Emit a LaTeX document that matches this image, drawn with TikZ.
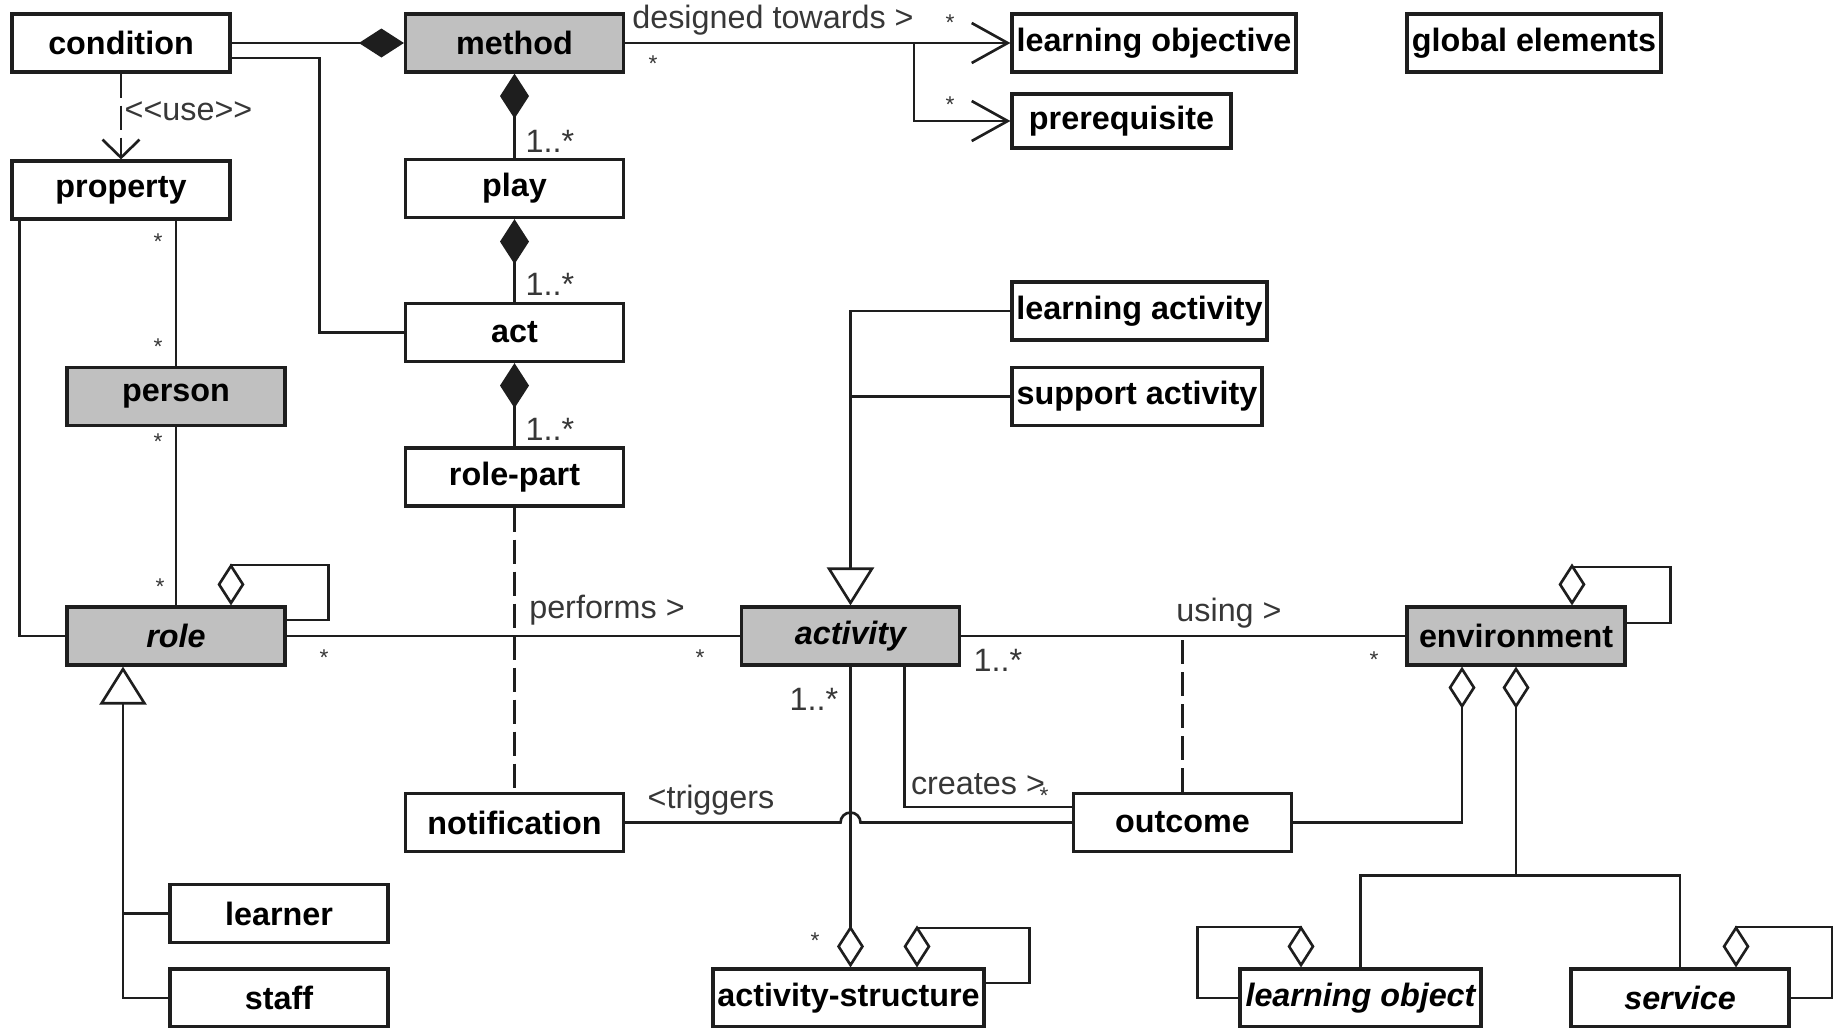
\documentclass[tikz,border=0pt]{standalone}
\usepackage{fontspec}
\setmainfont{Liberation Sans}
\usepackage{tikz}
\usetikzlibrary{arrows.meta, positioning, calc}
\definecolor{classgray}{RGB}{192, 192, 192}
\definecolor{linecolor}{RGB}{30, 30, 30}
\definecolor{labelcolor}{RGB}{55, 55, 55}
\newcommand{\stereo}[1]{<\kern0pt<#1>\kern0pt>}

\begin{document}
\begin{tikzpicture}[
    cls/.style={draw=linecolor, line width=0.9pt, minimum width=2.18cm, minimum height=0.58cm, inner sep=1pt, font=\fontsize{9.2}{11}\selectfont\bfseries},
    key/.style={cls, fill=classgray},
    conn/.style={draw=linecolor, line width=0.75pt},
    comp/.style={conn, -{Diamond[length=0.45cm, width=0.29cm]}},
    aggr/.style={conn, -{Diamond[open, length=0.42cm, width=0.27cm]}},
    gen/.style={conn, -{Triangle[open, length=0.38cm, width=0.47cm]}},
    nav/.style={conn, -{Straight Barb[length=0.36cm, width=0.4cm]}},
    dep/.style={conn, dash pattern=on 0.24cm off 0.08cm, -{Straight Barb[length=0.18cm, width=0.37cm]}},
    assoc/.style={conn, dash pattern=on 0.24cm off 0.08cm},
    lbl/.style={text=labelcolor, font=\fontsize{9.2}{11}\selectfont, inner sep=0pt},
    mult/.style={text=labelcolor, font=\fontsize{6.5}{7}\selectfont, inner sep=0pt},
]
    \useasboundingbox (0, 0) rectangle (18.33, -10.27);

    % Top row
    \node[cls] (condition) at (1.21, -0.43) {condition};
    \node[key] (method) at (5.145, -0.43) {method};
    \node[cls, minimum width=2.84cm] (lobjective) at (11.54, -0.43) {learning objective};
    \node[cls, minimum width=2.54cm] (global) at (15.34, -0.43) {global elements};
    \node[cls, minimum width=2.19cm, minimum height=0.54cm] (prereq) at (11.215, -1.21) {prerequisite};

    % Method structure
    \node[cls] (property) at (1.21, -1.90) {property};
    \node[cls] (play) at (5.145, -1.885) {play};
    \node[cls] (act) at (5.145, -3.325) {act};
    \node[key] (person) at (1.76, -3.965) {person};
    \node[cls] (rolepart) at (5.145, -4.77) {role-part};
    \node[cls, minimum width=2.55cm] (lactivity) at (11.395, -3.11) {learning activity};
    \node[cls, minimum width=2.50cm] (sactivity) at (11.37, -3.965) {support activity};

    % Middle row
    \node[key] (role) at (1.76, -6.36) {\itshape role};
    \node[key] (activity) at (8.505, -6.36) {\itshape activity};
    \node[key] (environment) at (15.16, -6.36) {environment};
    \node[cls] (notification) at (5.145, -8.225) {notification};
    \node[cls] (outcome) at (11.825, -8.225) {outcome};

    % Bottom row
    \node[cls] (learner) at (2.79, -9.135) {learner};
    \node[cls] (staff) at (2.79, -9.98) {staff};
    \node[cls, minimum width=2.71cm] (astructure) at (8.485, -9.98) {activity-structure};
    \node[cls, minimum width=2.41cm] (lobject) at (13.605, -9.98) {\itshape learning object};
    \node[cls] (service) at (16.80, -9.98) {\itshape service};

    % Composition
    \draw[comp] (condition.east) -- (method.west);
    \draw[comp] (play.north) -- (method.south);
    \draw[comp] (act.north) -- (play.south);
    \draw[comp] (rolepart.north) -- (act.south);
    \node[lbl] (m1) at (5.50, -1.41) {1..*};
    \node[lbl] (m2) at (5.50, -2.84) {1..*};
    \node[lbl] (m3) at (5.50, -4.29) {1..*};

    % Condition links
    \draw[conn] ([yshift=-0.15cm]condition.east) -- ++(0.88, 0) |- (act.west);
    \draw[dep] (condition.south) -- (property.north);
    \node[lbl, anchor=west] (uselbl) at (1.24, -1.11) {\stereo{use}};

    % Designed towards
    \coordinate (dsplit) at ($(method.east)!0.75!(lobjective.west)$);
    \draw[nav] (method.east) -- (lobjective.west);
    \draw[nav] (dsplit) |- (prereq.west);
    \node[lbl] (dlbl) at (7.73, -0.20) {designed towards >};
    \node[mult] (s1) at (6.53, -0.64) {*};
    \node[mult] (s2) at (9.50, -0.23) {*};
    \node[mult] (s3) at (9.50, -1.05) {*};

    % Property, person and role
    \draw[conn] (person.north) -- (person.north |- property.south);
    \draw[conn] (role.north) -- (person.south);
    \draw[conn] ([xshift=0.09cm]property.south west) |- (role.west);
    \draw[aggr] ([yshift=0.16cm]role.east) -| ++(0.42, 0.55) -| ([xshift=0.55cm]role.north);
    \node[mult] (s4) at (1.58, -2.42) {*};
    \node[mult] (s5) at (1.58, -3.47) {*};
    \node[mult] (s6) at (1.58, -4.42) {*};
    \node[mult] (s7) at (1.60, -5.87) {*};
    \coordinate (rolegen) at ([xshift=-0.53cm]role.south);
    \draw[gen] (staff.west) -| (rolegen);
    \draw[conn] (learner.west) -- (learner.west -| rolegen);

    % Activity
    \draw[gen] (lactivity.west) -| (activity.north);
    \draw[conn] (sactivity.west) -- (sactivity.west -| activity.north);
    \draw[conn] (role.east) -- (activity.west);
    \draw[conn] (activity.east) -- (environment.west);
    \draw[assoc] (rolepart.south) -- (notification.north);
    \draw[assoc] (outcome.north) -- (outcome.north |- activity.east);
    \node[lbl] (plbl) at (6.07, -6.10) {performs >};
    \node[lbl] (ulbl) at (12.29, -6.13) {using >};
    \node[mult] (s8) at (3.24, -6.58) {*};
    \node[mult] (s9) at (7.00, -6.58) {*};
    \node[lbl] (m4) at (9.98, -6.60) {1..*};
    \node[mult] (s10) at (13.74, -6.60) {*};

    \draw[aggr] (activity.south) -- (activity.south |- astructure.north);
    \draw[aggr] ([yshift=0.15cm]astructure.east) -| ++(0.44, 0.55) -| ([xshift=0.685cm]astructure.north);
    \node[lbl] (m5) at (8.14, -6.99) {1..*};
    \node[mult] (s11) at (8.15, -9.41) {*};

    \draw[conn] ([xshift=0.54cm]activity.south) |- ([yshift=0.155cm]outcome.west);
    \node[lbl] (clbl) at (9.78, -7.84) {creates >};
    \node[mult] (s12) at (10.44, -7.96) {*};
    \coordinate (hop) at (notification.east -| activity.south);
    \draw[conn] (notification.east) -- ([xshift=-0.1cm]hop) arc[start angle=180, end angle=0, radius=0.1cm] -- (outcome.west);
    \node[lbl] (tlbl) at (7.11, -8.00) {<triggers};

    % Environment
    \draw[aggr] ([yshift=0.13cm]environment.east) -| ++(0.44, 0.56) -| ([xshift=0.56cm]environment.north);
    \draw[aggr] (outcome.east) -| ([xshift=-0.54cm]environment.south);
    \coordinate (envsplit) at ($(environment.south)+(0, -2.09)$);
    \draw[aggr] (envsplit) -- (environment.south);
    \draw[conn] (lobject.north) |- (envsplit) -| (service.north);
    \draw[aggr] (lobject.west) -| ++(-0.41, 0.71) -| ([xshift=-0.595cm]lobject.north);
    \draw[aggr] (service.east) -| ++(0.42, 0.71) -| ([xshift=0.56cm]service.north);

\end{tikzpicture}
\end{document}
